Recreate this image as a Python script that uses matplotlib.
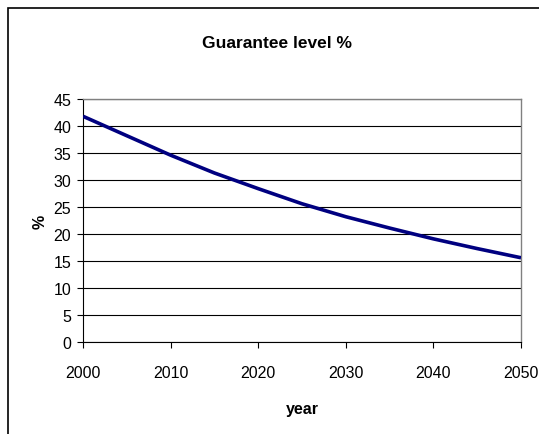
import matplotlib
matplotlib.use("Agg")
import matplotlib.pyplot as plt
from matplotlib.patches import Rectangle

YEARS = [2000, 2005, 2010, 2015, 2020, 2025, 2030, 2035, 2040, 2045, 2050]
LEVEL = [41.8, 38.2, 34.6, 31.3, 28.4, 25.6, 23.2, 21.1, 19.1, 17.3, 15.6]

X_TICKS = [2000, 2010, 2020, 2030, 2040, 2050]
Y_TICKS = [0, 5, 10, 15, 20, 25, 30, 35, 40, 45]

NAVY = "#000080"

plt.rcParams["font.family"] = ["Liberation Sans", "DejaVu Sans"]

W, H = 539, 435
fig = plt.figure(figsize=(W / 100, H / 100), dpi=100)
fig.patch.set_facecolor("white")

# outer chart frame (cropped at right/bottom like the source)
fig.add_artist(Rectangle((8 / W, -0.05), 1.1, (H - 9) / H + 0.05,
                         transform=fig.transFigure, fill=False,
                         edgecolor="black", linewidth=1.2))

ax = fig.add_axes([83 / W, (H - 343) / H, 438 / W, 243 / H])
ax.plot(YEARS, LEVEL, color=NAVY, linewidth=2.6, solid_capstyle="butt", zorder=3)

ax.set_xlim(2000, 2050)
ax.set_ylim(0, 45)
ax.set_xticks(X_TICKS)
ax.set_yticks(Y_TICKS)
ax.grid(True, axis="y", color="black", linewidth=0.8)
ax.set_axisbelow(True)

for side in ("top", "right"):
    ax.spines[side].set_color("#808080")
    ax.spines[side].set_linewidth(1.0)
for side in ("left", "bottom"):
    ax.spines[side].set_color("black")
    ax.spines[side].set_linewidth(0.8)

ax.tick_params(axis="both", direction="out", length=4.5, width=0.8, labelsize=11.5)
ax.tick_params(axis="x", pad=12)
ax.tick_params(axis="y", pad=4)

ax.set_xlabel("year", fontsize=11.5, fontweight="bold", labelpad=15)
ax.set_ylabel("%", fontsize=11.5, fontweight="bold", labelpad=4)

fig.text(277 / W, 1 - 43 / H, "Guarantee level %", ha="center", va="center",
         fontsize=12.5, fontweight="bold")

fig.savefig("out.png", dpi=100)
